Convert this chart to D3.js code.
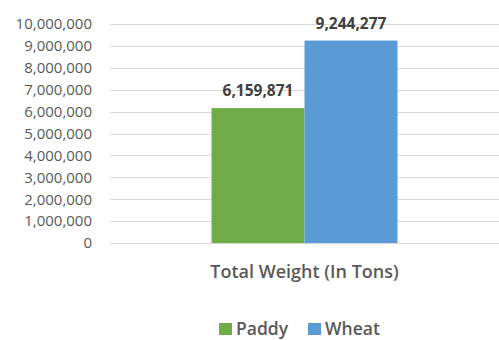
<!DOCTYPE html>
<html><head><meta charset="utf-8">
<script src="https://cdn.jsdelivr.net/npm/d3@7"></script>
<style>body{margin:0;background:#fff}svg{display:block}</style>
</head><body>
<svg id="c" width="499" height="340"></svg>
<script>
const categories = ["Total Weight (In Tons)"];
const seriesNames = ["Paddy", "Wheat"];
const paddyValues = [6159871];
const wheatValues = [9244277];
const seriesColors = ["#70ad47", "#5b9bd5"];
const yTicks = [0,1000000,2000000,3000000,4000000,5000000,6000000,7000000,8000000,9000000,10000000];

(function(){
const svg = d3.select("#c");
const pLeft = 110, pRight = 499, pTop = 24, pBottom = 243;
const font = "'Open Sans', sans-serif";
const fmt = d3.format(",");

const y = d3.scaleLinear().domain([0, 10000000]).range([pBottom, pTop]);
const x0 = d3.scaleBand().domain(categories).range([pLeft, pRight]).paddingInner(0).paddingOuter(0.546);
const x1 = d3.scaleBand().domain(seriesNames).range([0, x0.bandwidth()]).padding(0);

svg.append("g").selectAll("line").data(yTicks).join("line")
  .attr("x1", pLeft).attr("x2", pRight)
  .attr("y1", d => Math.round(y(d)) + 0.5).attr("y2", d => Math.round(y(d)) + 0.5)
  .attr("stroke", "#d9d9d9").attr("stroke-width", 1);

const yAxis = d3.axisLeft(y).tickValues(yTicks).tickFormat(fmt).tickSize(0).tickPadding(0);
const ga = svg.append("g").attr("transform", "translate(92,0)").call(yAxis);
ga.select(".domain").remove();
ga.selectAll("text").attr("font-family", font).attr("font-size", 15).attr("fill", "#595959");

const series = [paddyValues, wheatValues];
categories.forEach((cat, ci) => {
  seriesNames.forEach((s, si) => {
    const v = series[si][ci];
    const bx = x0(cat) + x1(s);
    svg.append("rect")
      .attr("x", bx).attr("y", y(v))
      .attr("width", x1.bandwidth()).attr("height", y(0) - y(v))
      .attr("fill", seriesColors[si]);
    svg.append("text")
      .attr("x", bx + x1.bandwidth() / 2).attr("y", y(v) - 12)
      .attr("text-anchor", "middle")
      .attr("font-family", font).attr("font-weight", "bold").attr("font-size", 15.5)
      .attr("fill", "#404040").text(fmt(v));
  });
  svg.append("text")
    .attr("x", x0(cat) + x0.bandwidth() / 2).attr("y", 278)
    .attr("text-anchor", "middle")
    .attr("font-family", font).attr("font-weight", "600").attr("font-size", 18)
    .attr("fill", "#595959").text(cat);
});

const legendX = [219, 308];
seriesNames.forEach((s, i) => {
  const g = svg.append("g").attr("transform", `translate(${legendX[i]},0)`);
  g.append("rect").attr("x", 0).attr("y", 323).attr("width", 13).attr("height", 12).attr("fill", seriesColors[i]);
  g.append("text").attr("x", 17).attr("y", 335)
    .attr("font-family", font).attr("font-weight", "600").attr("font-size", 17.5)
    .attr("fill", "#595959").text(s);
});
})();
</script>
</body></html>
